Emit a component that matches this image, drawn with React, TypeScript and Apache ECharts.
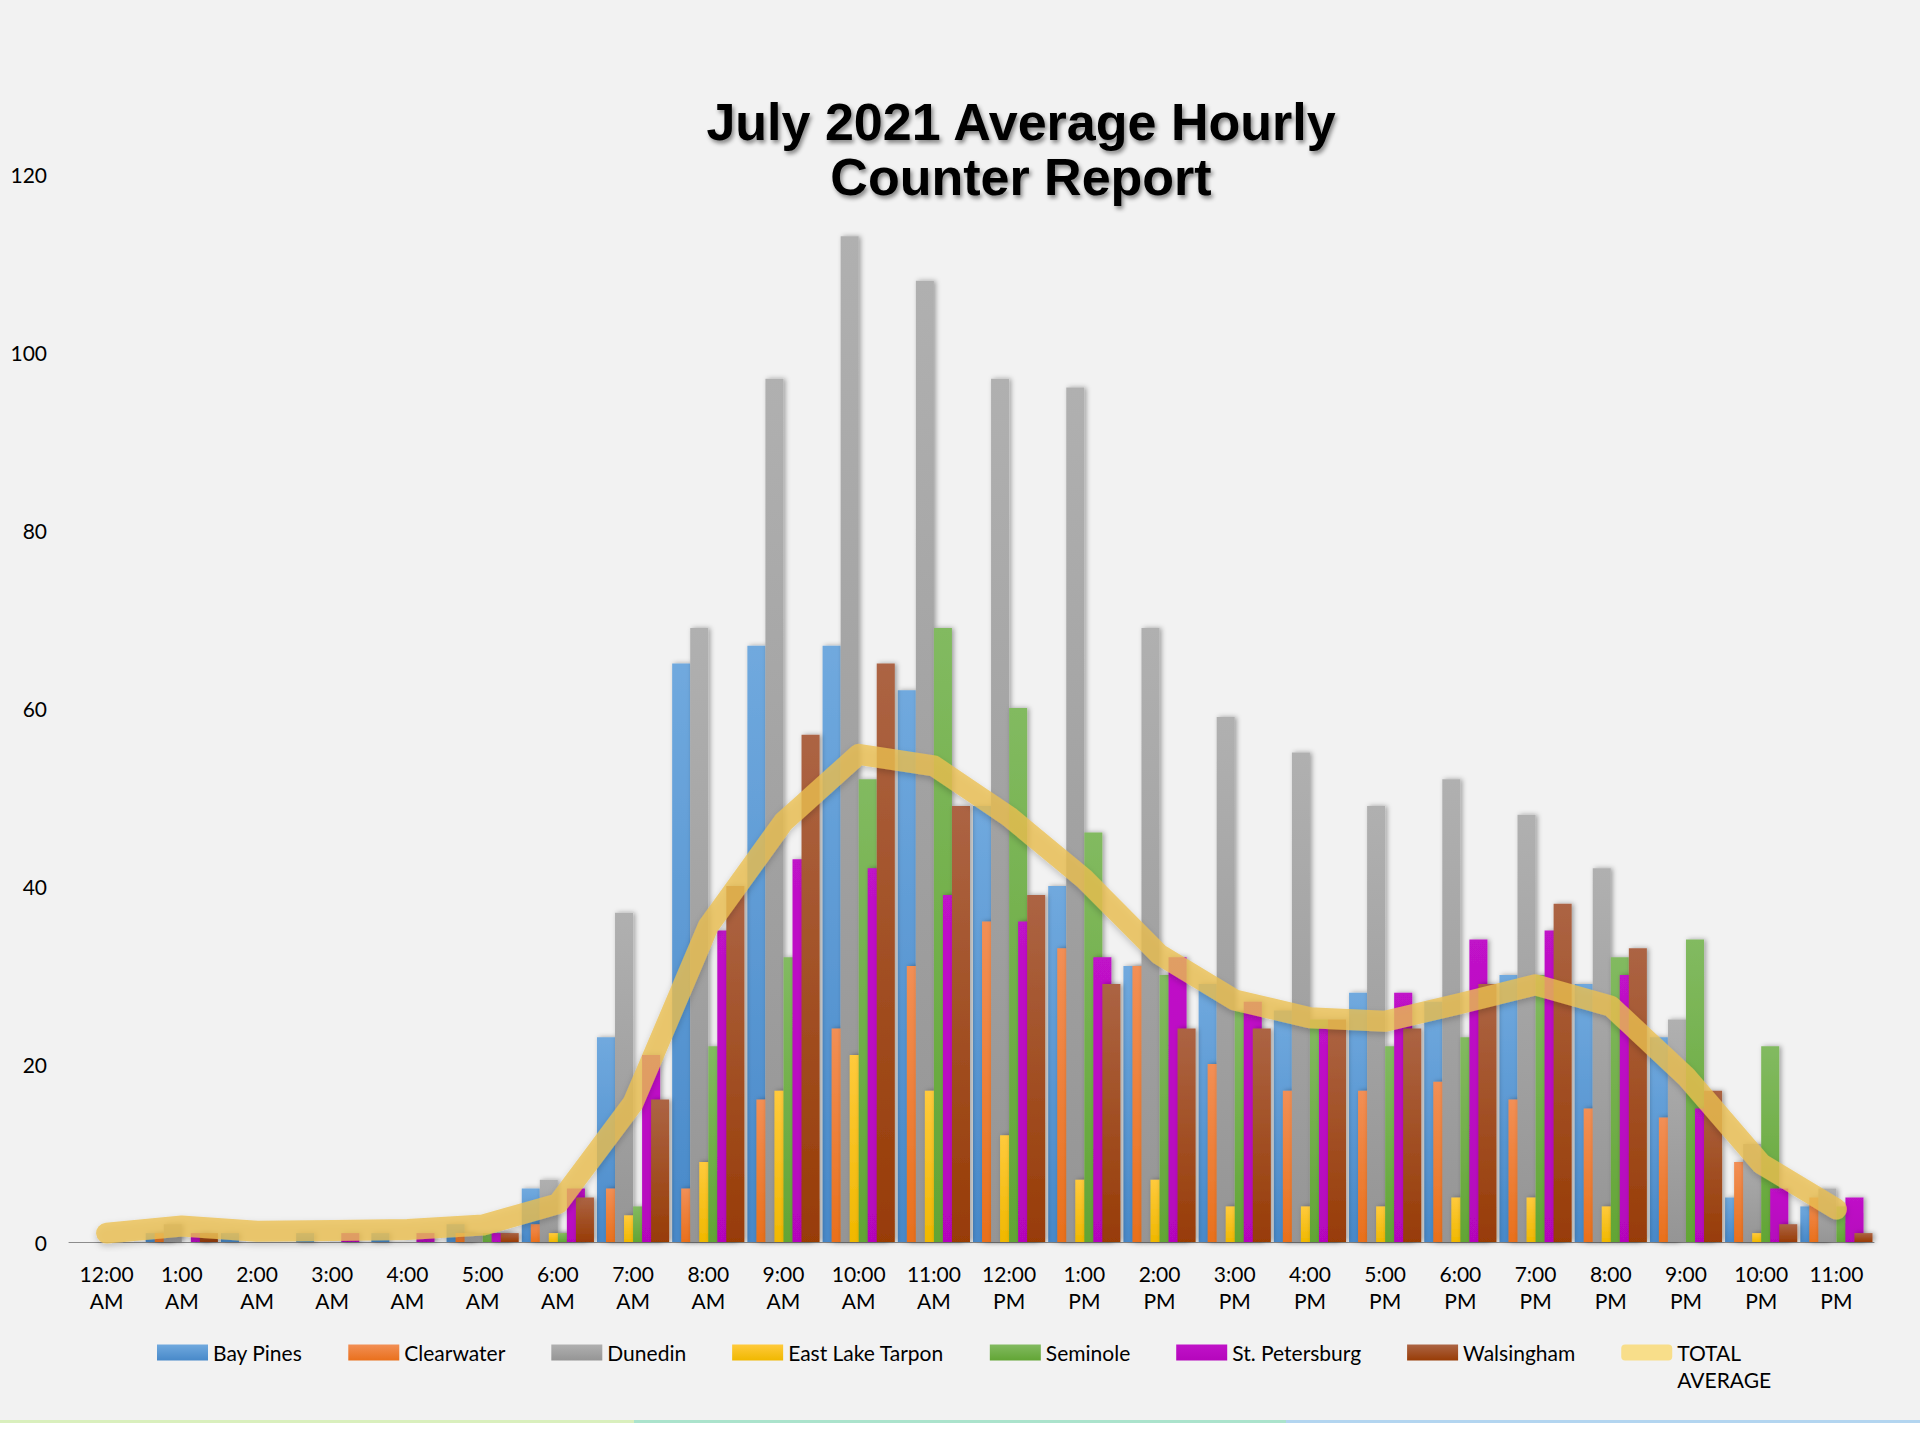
import React, { useEffect, useRef } from "react";
import * as echarts from "echarts";

const hours = [
  "12:00 AM", "1:00 AM", "2:00 AM", "3:00 AM", "4:00 AM", "5:00 AM",
  "6:00 AM", "7:00 AM", "8:00 AM", "9:00 AM", "10:00 AM", "11:00 AM",
  "12:00 PM", "1:00 PM", "2:00 PM", "3:00 PM", "4:00 PM", "5:00 PM",
  "6:00 PM", "7:00 PM", "8:00 PM", "9:00 PM", "10:00 PM", "11:00 PM",
];

const bayPines = [0, 1, 1, 1, 1, 2, 6, 23, 65, 67, 67, 62, 49, 40, 31, 29, 26, 28, 27, 30, 29, 23, 5, 4];
const clearwater = [0, 1, 0, 0, 0, 1, 2, 6, 6, 16, 24, 31, 36, 33, 31, 20, 17, 17, 18, 16, 15, 14, 9, 5];
const dunedin = [0, 2, 0, 0, 0, 1, 7, 37, 69, 97, 113, 108, 97, 96, 69, 59, 55, 49, 52, 48, 42, 25, 11, 6];
const eastLakeTarpon = [0, 0, 0, 0, 0, 0, 1, 3, 9, 17, 21, 17, 12, 7, 7, 4, 4, 4, 5, 5, 4, 0, 1, 0];
const seminole = [0, 0, 0, 0, 0, 1, 1, 4, 22, 32, 52, 69, 60, 46, 30, 26, 25, 22, 23, 30, 32, 34, 22, 4];
const stPetersburg = [0, 1, 0, 1, 1, 1, 6, 21, 35, 43, 42, 39, 36, 32, 32, 27, 24, 28, 34, 35, 30, 15, 6, 5];
const walsingham = [0, 1, 0, 0, 0, 1, 5, 16, 40, 57, 65, 49, 39, 29, 24, 24, 25, 24, 29, 38, 33, 17, 2, 1];
const totalAverage = [1.0, 1.8, 1.2, 1.3, 1.4, 1.9, 4.3, 15.6, 35.5, 47.2, 54.8, 53.5, 47.8, 40.8, 32.3, 27.2, 25.2, 24.8, 26.8, 28.9, 26.5, 18.6, 8.8, 3.7];

const barNames = ["Bay Pines", "Clearwater", "Dunedin", "East Lake Tarpon", "Seminole", "St. Petersburg", "Walsingham"];
const barData = [bayPines, clearwater, dunedin, eastLakeTarpon, seminole, stPetersburg, walsingham];
const barColors: [string, string][] = [
  ["#70a9de", "#4889c9"],
  ["#f28f55", "#e9701c"],
  ["#b0b0b0", "#959595"],
  ["#ffca3c", "#f0b800"],
  ["#82ba60", "#62a535"],
  ["#c012c8", "#b506bc"],
  ["#ac6444", "#983c06"],
];
const lineName = "TOTAL AVERAGE";
const titleText = "July 2021 Average Hourly\nCounter Report";
const yTicks = { min: 0, max: 120, interval: 20 };

export default function App() {
  const ref = useRef<HTMLDivElement>(null);
  useEffect(() => {
    if (!ref.current) return;
    const chart = echarts.init(ref.current, undefined, { renderer: "svg" });
    const font = "Lato";
    const barSeries = barNames.map((name, i) => ({
      name,
      type: "bar",
      data: barData[i],
      barGap: "-50%",
      barCategoryGap: "4%",
      itemStyle: {
        color: new echarts.graphic.LinearGradient(0, 0, 0, 1, [
          { offset: 0, color: barColors[i][0] },
          { offset: 1, color: barColors[i][1] },
        ]),
        shadowBlur: 5,
        shadowColor: "rgba(0,0,0,0.35)",
        shadowOffsetX: 2,
        shadowOffsetY: 0,
      },
      emphasis: { disabled: true },
      silent: true,
    }));
    chart.setOption({
      animation: false,
      backgroundColor: "#f2f2f2",
      graphic: [
        { type: "rect", shape: { x: 0, y: 1420, width: 634, height: 3 }, style: { fill: "#d9efbd" } },
        { type: "rect", shape: { x: 634, y: 1420, width: 652, height: 3 }, style: { fill: "#abe3cc" } },
        { type: "rect", shape: { x: 1286, y: 1420, width: 634, height: 3 }, style: { fill: "#b3d5f0" } },
        { type: "rect", shape: { x: 0, y: 1423, width: 1920, height: 17 }, style: { fill: "#ffffff" } },
        {
          type: "text",
          x: 1021,
          y: 94,
          style: {
            text: titleText,
            fill: "#000",
            font: 'bold 52px "Liberation Sans"',
            align: "center",
            verticalAlign: "top",
            lineHeight: 55,
            textShadowColor: "rgba(0,0,0,0.45)",
            textShadowBlur: 4,
            textShadowOffsetX: 2,
            textShadowOffsetY: 3,
          },
        },
      ],
      grid: { left: 69, right: 46, top: 174, bottom: 198, containLabel: false },
      legend: {
        left: 157,
        top: 1312,
        padding: 0,
        itemWidth: 51,
        itemHeight: 16,
        itemGap: 46,
        textStyle: { fontFamily: font, fontSize: 21, color: "#000", lineHeight: 27 },
        formatter: (n: string) => (n === lineName ? " \nTOTAL\nAVERAGE" : n),
        data: [
          ...barNames.map((n) => ({ name: n, icon: "rect" })),
          {
            name: lineName,
            icon: "roundRect",
            itemStyle: { color: "#f8de8a" },
          },
        ],
        selectedMode: false,
      },
      xAxis: {
        type: "category",
        data: hours,
        boundaryGap: true,
        axisTick: { show: false },
        axisLine: { lineStyle: { color: "#8c8c8c", width: 1 } },
        axisLabel: {
          interval: 0,
          margin: 18,
          fontFamily: font,
          fontSize: 21,
          lineHeight: 27,
          color: "#000",
          formatter: (v: string) => v.replace(" ", "\n"),
        },
      },
      yAxis: {
        type: "value",
        min: yTicks.min,
        max: yTicks.max,
        interval: yTicks.interval,
        axisLine: { show: false },
        axisTick: { show: false },
        splitLine: { show: false },
        axisLabel: { margin: 22, fontFamily: font, fontSize: 21, color: "#000" },
      },
      series: [
        ...barSeries,
        {
          name: lineName,
          type: "line",
          data: totalAverage,
          symbol: "none",
          z: 3,
          silent: true,
          color: "rgba(236,192,80,0.78)",
          lineStyle: {
            width: 21,
            color: "rgba(236,192,80,0.78)",
            cap: "round",
            join: "round",
            shadowBlur: 6,
            shadowColor: "rgba(0,0,0,0.25)",
            shadowOffsetY: 3,
          },
          emphasis: { disabled: true },
        },
      ],
    });
    return () => chart.dispose();
  }, []);
  return (
    <div
      ref={ref}
      style={{ position: "absolute", left: 0, top: 0, width: 1920, height: 1440 }}
    />
  );
}
